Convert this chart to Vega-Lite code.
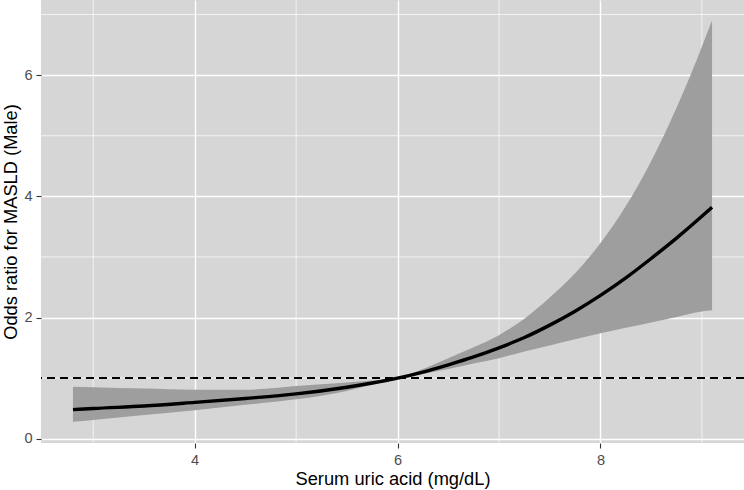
{
  "$schema": "https://vega.github.io/schema/vega-lite/v6.json",
  "width": 703,
  "height": 443,
  "autosize": {"type": "none"},
  "padding": {"left": 41, "top": 0, "right": 0, "bottom": 47},
  "background": "white",
  "view": {"fill": "#D6D6D6", "stroke": null},
  "config": {
    "font": "Liberation Sans",
    "axis": {
      "domain": false,
      "grid": true,
      "gridColor": "#FFFFFF",
      "gridWidth": 1.4,
      "tickColor": "#333333",
      "tickSize": 5,
      "tickWidth": 1.1,
      "labelColor": "#4D4D4D",
      "labelFont": "Liberation Sans",
      "labelFontSize": 14.6,
      "titleFont": "Liberation Sans",
      "titleFontSize": 18.3,
      "titleFontWeight": "normal",
      "titleColor": "#000000"
    }
  },
  "datasets": {
    "curve": [
      {"x": 2.8, "or": 0.48, "lower": 0.28, "upper": 0.86},
      {"x": 3.0, "or": 0.50, "lower": 0.31, "upper": 0.85},
      {"x": 3.5, "or": 0.54, "lower": 0.39, "upper": 0.83},
      {"x": 4.0, "or": 0.60, "lower": 0.47, "upper": 0.81},
      {"x": 4.5, "or": 0.665, "lower": 0.56, "upper": 0.81},
      {"x": 5.0, "or": 0.74, "lower": 0.65, "upper": 0.87},
      {"x": 5.5, "or": 0.85, "lower": 0.79, "upper": 0.93},
      {"x": 5.75, "or": 0.92, "lower": 0.89, "upper": 0.96},
      {"x": 6.0, "or": 1.00, "lower": 0.99, "upper": 1.01},
      {"x": 6.25, "or": 1.10, "lower": 1.07, "upper": 1.15},
      {"x": 6.5, "or": 1.22, "lower": 1.15, "upper": 1.33},
      {"x": 6.75, "or": 1.35, "lower": 1.24, "upper": 1.51},
      {"x": 7.0, "or": 1.50, "lower": 1.33, "upper": 1.71},
      {"x": 7.25, "or": 1.67, "lower": 1.44, "upper": 1.98},
      {"x": 7.5, "or": 1.875, "lower": 1.54, "upper": 2.33},
      {"x": 7.75, "or": 2.105, "lower": 1.64, "upper": 2.73},
      {"x": 8.0, "or": 2.365, "lower": 1.74, "upper": 3.23},
      {"x": 8.25, "or": 2.655, "lower": 1.83, "upper": 3.84},
      {"x": 8.5, "or": 2.975, "lower": 1.92, "upper": 4.58},
      {"x": 8.75, "or": 3.31, "lower": 2.01, "upper": 5.46},
      {"x": 9.0, "or": 3.67, "lower": 2.10, "upper": 6.47},
      {"x": 9.1, "or": 3.82, "lower": 2.12, "upper": 6.90}
    ],
    "minorx": [{"v": 3}, {"v": 5}, {"v": 7}, {"v": 9}],
    "minory": [{"v": 1}, {"v": 3}, {"v": 5}, {"v": 7}]
  },
  "layer": [
    {
      "data": {"name": "minorx"},
      "mark": {"type": "rule", "color": "#FFFFFF", "strokeWidth": 0.7},
      "encoding": {
        "x": {"field": "v", "type": "quantitative", "scale": {"domain": [2.485, 9.415], "nice": false, "zero": false}}
      }
    },
    {
      "data": {"name": "minory"},
      "mark": {"type": "rule", "color": "#FFFFFF", "strokeWidth": 0.7},
      "encoding": {
        "y": {"field": "v", "type": "quantitative", "scale": {"domain": [-0.07, 7.24], "nice": false, "zero": false}}
      }
    },
    {
      "data": {"name": "curve"},
      "mark": {"type": "area", "color": "#9E9E9E", "opacity": 1, "interpolate": "monotone"},
      "encoding": {
        "x": {"field": "x", "type": "quantitative",
              "scale": {"domain": [2.485, 9.415], "nice": false, "zero": false},
              "axis": {"values": [4, 6, 8], "format": "d", "title": "Serum uric acid (mg/dL)", "labelPadding": 4, "titlePadding": 4}},
        "y": {"field": "lower", "type": "quantitative",
              "scale": {"domain": [-0.07, 7.24], "nice": false, "zero": false},
              "axis": {"values": [0, 2, 4, 6], "format": "d", "title": "Odds ratio for MASLD (Male)", "labelPadding": 4, "titlePadding": 3}},
        "y2": {"field": "upper"}
      }
    },
    {
      "data": {"name": "curve"},
      "mark": {"type": "rule", "color": "#000000", "strokeWidth": 1.8, "strokeDash": [8, 5]},
      "encoding": {"y": {"datum": 1, "type": "quantitative"}}
    },
    {
      "data": {"name": "curve"},
      "mark": {"type": "line", "color": "#000000", "strokeWidth": 3.4, "interpolate": "monotone"},
      "encoding": {
        "x": {"field": "x", "type": "quantitative"},
        "y": {"field": "or", "type": "quantitative"}
      }
    }
  ]
}
